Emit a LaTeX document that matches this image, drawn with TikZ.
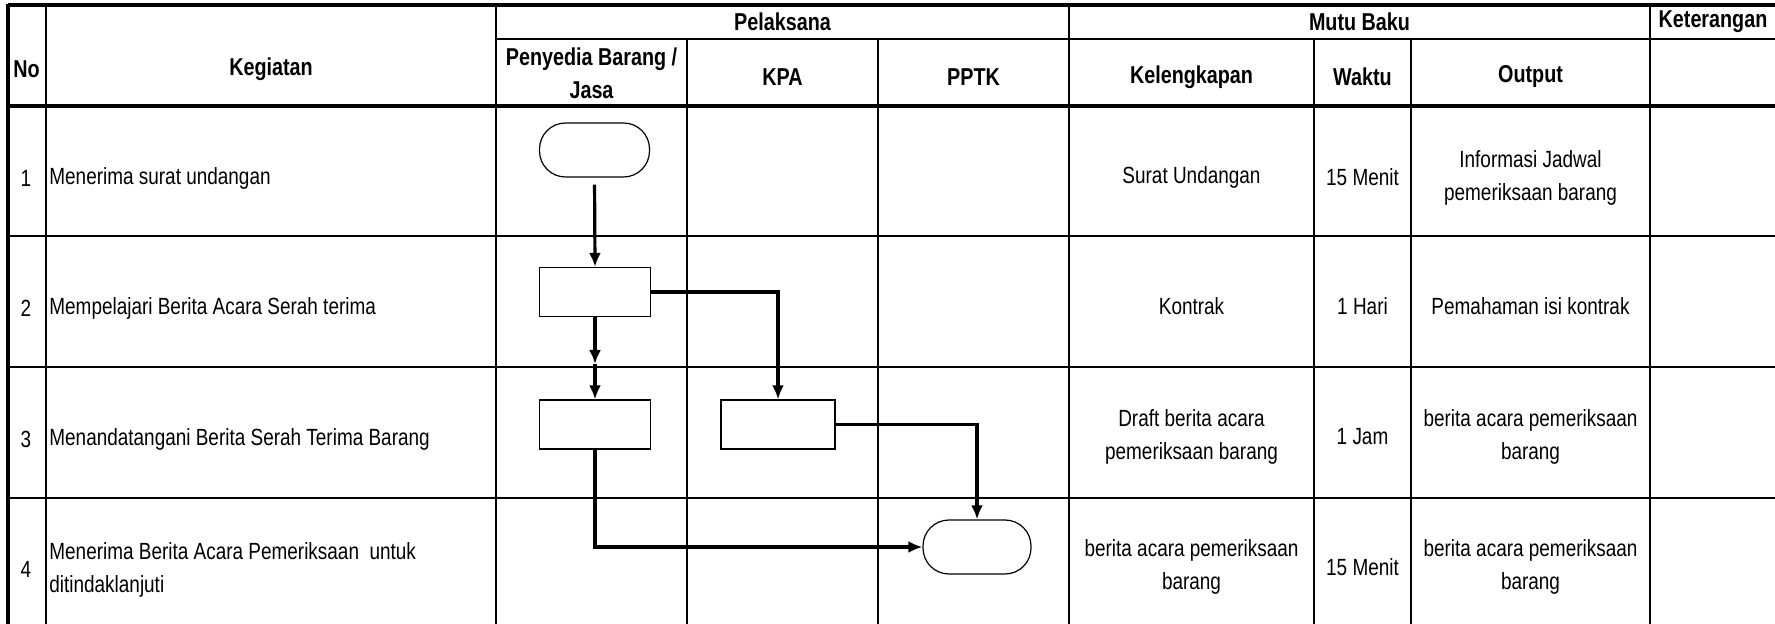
\documentclass[tikz,border=0pt]{standalone}
\usepackage{fontspec}
\setmainfont{Liberation Sans}[FakeStretch=0.81]
\usetikzlibrary{arrows.meta}
\begin{document}
\begin{tikzpicture}[x=0.5pt,y=-0.5pt,
  thickln/.style={line width=2pt},
  gridln/.style={line width=1pt},
  txt/.style={font=\fontsize{11.7}{16.5}\selectfont, align=center, inner sep=0pt},
  hdr/.style={txt, font=\fontsize{12.2}{16.5}\selectfont\bfseries},
  lefttxt/.style={txt, align=left, anchor=west},
  term/.style={draw, line width=0.6pt, rounded corners=13pt, minimum width=55pt, minimum height=27pt, inner sep=0pt},
  proc/.style={draw, line width=0.6pt, minimum width=55.5pt, minimum height=24.5pt, inner sep=0pt},
  conn/.style={line width=1.6pt, -{Latex[length=7pt,width=6pt]}}
]
\useasboundingbox (0,0) rectangle (1775,624);
\fill[white] (0,0) rectangle (1775,624);

% ---- table grid ----
\draw[thickln] (8,4.7) -- (1776,4.7);
\draw[gridln] (496,39) -- (1776,39);
\draw[thickln] (8,106) -- (1776,106);
\foreach \y in {236,367,498} \draw[gridln] (8,\y) -- (1776,\y);
\draw[thickln] (8,4) -- (8,626);
\foreach \x in {46,496,1069,1650} \draw[gridln] (\x,4) -- (\x,626);
\foreach \x in {687,878,1314,1411} \draw[gridln] (\x,39) -- (\x,626);

% ---- header ----
\node[hdr] (hNo) at (26.5,69) {No};
\node[hdr] (hKeg) at (271,69) {Kegiatan};
\node[hdr] (hPel) at (782.5,21.5) {Pelaksana};
\node[hdr] (hPen) at (591.5,73) {Penyedia Barang /\\Jasa};
\node[hdr] (hKPA) at (782.5,77) {KPA};
\node[hdr] (hPPTK) at (973.5,77) {PPTK};
\node[hdr] (hMutu) at (1359.5,21.5) {Mutu Baku};
\node[hdr] (hKel) at (1191.5,77) {Kelengkapan};
\node[hdr] (hWak) at (1362.5,77) {Waktu};
\node[hdr] (hOut) at (1530.5,77) {Output};
\node[hdr] (hKet) at (1713,21.5) {Keterangan};

% ---- rows: number and activity ----
\node[txt] (n1) at (26,178) {1};
\node[txt] (n2) at (26,308) {2};
\node[txt] (n3) at (26,439) {3};
\node[txt] (n4) at (26,569) {4};
\node[lefttxt] (k1) at (49,178) {Menerima surat undangan};
\node[lefttxt] (k2) at (49,308) {Mempelajari Berita Acara Serah terima};
\node[lefttxt] (k3) at (49,439) {Menandatangani Berita Serah Terima Barang};
\node[lefttxt] (k4) at (49,570) {Menerima Berita Acara Pemeriksaan\ \ untuk\\ditindaklanjuti};

% ---- Mutu Baku ----
\node[txt] (kel1) at (1191.5,177) {Surat Undangan};
\node[txt] (wak1) at (1362.5,177) {15 Menit};
\node[txt] (out1) at (1530.5,178) {Informasi Jadwal\\pemeriksaan barang};
\node[txt] (kel2) at (1191.5,306) {Kontrak};
\node[txt] (wak2) at (1362.5,306) {1 Hari};
\node[txt] (out2) at (1530.5,306) {Pemahaman isi kontrak};
\node[txt] (kel3) at (1191.5,437) {Draft berita acara\\pemeriksaan barang};
\node[txt] (wak3) at (1362.5,437) {1 Jam};
\node[txt] (out3) at (1530.5,437) {berita acara pemeriksaan\\barang};
\node[txt] (kel4) at (1191.5,567) {berita acara pemeriksaan\\barang};
\node[txt] (wak4) at (1362.5,567) {15 Menit};
\node[txt] (out4) at (1530.5,567) {berita acara pemeriksaan\\barang};

% ---- flowchart ----
\node[term, fill=white] (t1) at (594.5,150) {};
\node[proc, fill=white] (r2) at (595,292) {};
\node[proc, fill=white] (r3a) at (595,424.5) {};
\node[proc, fill=white, minimum width=57pt] (r3b) at (778,424.5) {};
\node[term, fill=white, minimum width=54pt] (t4) at (977,547) {};
\coordinate (m1) at (595,364);

\draw[conn, shorten <=3.5pt] (t1.south) -- (r2.north);
\draw[conn] (r2.south) -- (m1);
\draw[conn] (m1) -- (r3a.north);
\draw[conn] (r2.east) -| (r3b.north);
\draw[conn] (r3a.south) |- (t4.west);
\draw[conn] (r3b.east) -| (t4.north);
\end{tikzpicture}
\end{document}
